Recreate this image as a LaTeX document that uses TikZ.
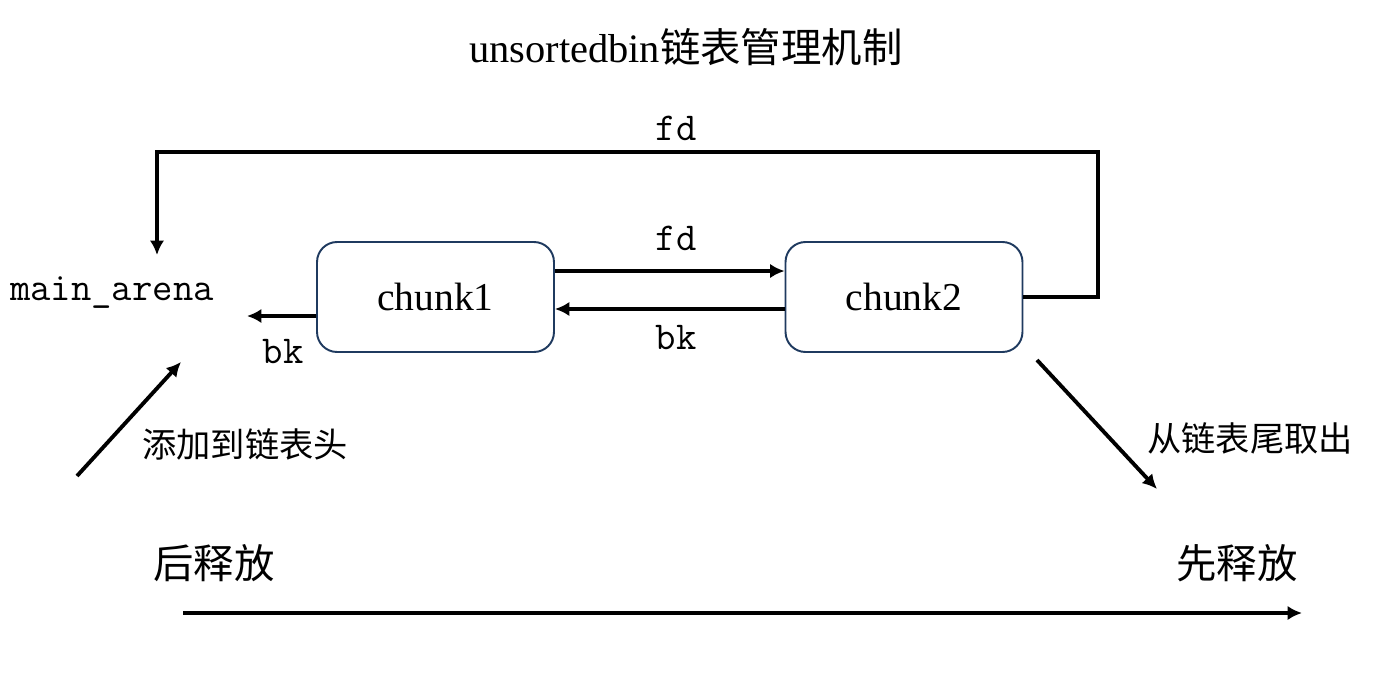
\documentclass[tikz,border=0pt]{standalone}
\usepackage{fontspec}
\setmainfont{Liberation Serif}
\newfontfamily\cjk{Noto Sans CJK SC}
\usetikzlibrary{arrows.meta,positioning}
\definecolor{navy}{HTML}{1F3A5F}

\begin{document}
\begin{tikzpicture}[x=0.02cm, y=-0.02cm,
  chunkbox/.style={draw=navy, line width=1.1pt, rounded corners=0.4cm,
                   minimum width=4.74cm, minimum height=2.2cm,
                   font=\fontsize{22.5}{27}\selectfont},
  ptr/.style={line width=2.2pt, -{Latex[length=2.9mm,width=2.9mm]}},
  monolab/.style={font=\fontsize{22.5}{27}\selectfont\ttfamily},
  cjklab/.style={font=\fontsize{19.5}{24}\selectfont\cjk},
  biglab/.style={font=\fontsize{23}{28}\selectfont\cjk}]
 \useasboundingbox (0,0) rectangle (1384,687);
 \node[font=\fontsize{23}{28}\selectfont] (title) at (686,47)
   {unsortedbin{\cjk 链表管理机制}};
 % chunks and main_arena
 \node[chunkbox] (chunkA) at (435.5,297) {chunk1};
 \node[chunkbox] (chunkB) at (904,297) {chunk2};
 \node[monolab] (arena) at (112,293) {main\_arena};
 \coordinate (arenaIn) at (247,316);
 \coordinate (loopR) at (1098,152);
 \coordinate (loopEnd) at (157,255);
 % pointers
 \draw[ptr] ([yshift=0.52cm]chunkA.east) -- ([yshift=0.52cm]chunkB.west);
 \draw[ptr] ([yshift=-0.24cm]chunkB.west) -- ([yshift=-0.24cm]chunkA.east);
 \draw[ptr] ([yshift=-0.38cm]chunkA.west) -- (arenaIn);
 \draw[ptr] (chunkB.east) -| (loopR) -| (loopEnd);
 \node[monolab] (fdTop) at (676,128) {fd};
 \node[monolab] (fdMid) at (676,238) {fd};
 \node[monolab] (bkMid) at (676,338) {bk};
 \node[monolab] (bkLeft) at (283,352) {bk};
 % insert / remove
 \coordinate (pushFrom) at (77,476);
 \coordinate (pushTo) at (181,362);
 \coordinate (popFrom) at (1037,360);
 \coordinate (popTo) at (1157,489);
 \draw[ptr] (pushFrom) -- (pushTo);
 \draw[ptr] (popFrom) -- (popTo);
 \node[cjklab] (pushLab) at (245,444) {添加到链表头};
 \node[cjklab] (popLab) at (1250,438) {从链表尾取出};
 % order of freeing
 \node[biglab] (later) at (214,563) {后释放};
 \node[biglab] (earlier) at (1237,563) {先释放};
 \coordinate (timeFrom) at (183,613);
 \coordinate (timeTo) at (1302,613);
 \draw[ptr] (timeFrom) -- (timeTo);
\end{tikzpicture}
\end{document}
